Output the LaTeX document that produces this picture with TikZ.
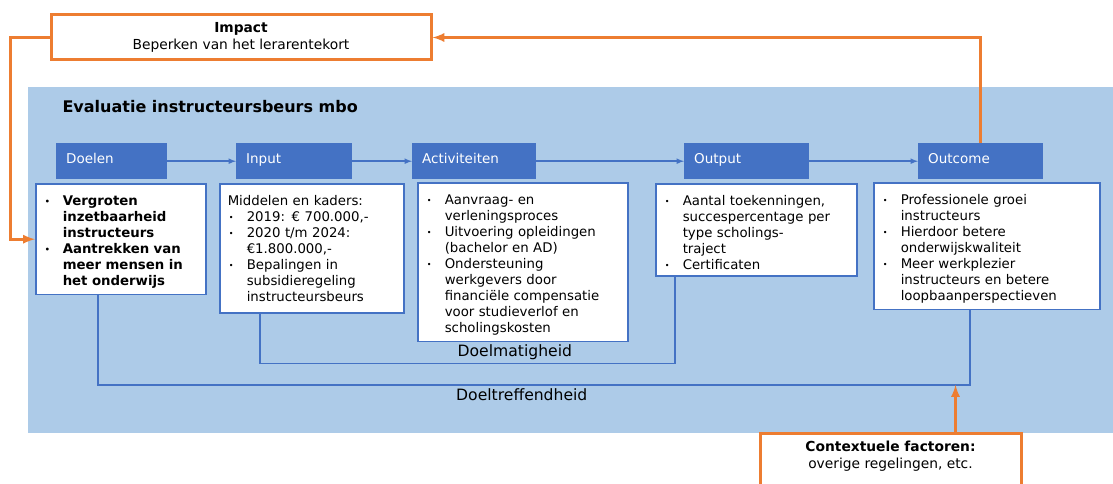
\documentclass[tikz,border=0pt]{standalone}
\usepackage{fontspec}
\setmainfont{DejaVu Sans}
\usetikzlibrary{positioning}
\definecolor{achtergrond}{HTML}{ADCBE8}
\definecolor{kopblauw}{HTML}{4472C4}
\definecolor{oranje}{HTML}{ED7D31}
\newcommand{\opsom}{\par\hangindent=19pt\hangafter=1\noindent\makebox[19pt][l]{\hspace{1pt}\raisebox{1.2pt}{\fontsize{8}{8}\selectfont\textbullet}}}

\begin{document}
\begin{tikzpicture}[x=1pt, y=-1pt]
	\tikzset{kop/.style={fill=kopblauw, text=white, anchor=north west, align=left, inner xsep=10pt, inner ysep=0pt, minimum height=36pt, text height=10pt, text depth=6pt, font=\fontsize{13.5}{16}\selectfont},
	vak/.style={draw=kopblauw, line width=1.5pt, fill=white, anchor=north west, align=left, inner xsep=8pt, inner ysep=6pt, font=\fontsize{13.3}{16}\selectfont},
	pijl/.style={kopblauw, line width=1.5pt, -latex},
	lijn/.style={kopblauw, line width=1.5pt},
	label/.style={text=black, font=\fontsize{15.6}{18}\selectfont},
	oranjepijl/.style={oranje, line width=3pt, -latex},
	oranjevak/.style={draw=oranje, line width=3pt, fill=white, align=center, font=\fontsize{13.8}{17}\selectfont}};

	\useasboundingbox (0,0) rectangle (1113,484);
	\fill[achtergrond] (28,87) rectangle (1113,433);
	\node[anchor=west, font=\bfseries\fontsize{16}{19}\selectfont] (titel) at (59,107) {Evaluatie instructeursbeurs mbo};

	\foreach \name/\x/\tb/\tekst in {doelen/56/91/Doelen, input/236/96/Input, act/412/104/Activiteiten, output/684/105/Output, outcome/918/105/Outcome}{
		\node[kop, text width=\tb pt] (\name) at (\x,143) {\tekst};
	}
	\draw[pijl] (doelen) -- (input);
	\draw[pijl] (input) -- (act);
	\draw[pijl] (act) -- (output);
	\draw[pijl] (output) -- (outcome);

	\node[vak, text width=154pt, minimum height=106pt, font={\bfseries\fontsize{13.3}{16}\selectfont}] (doelenbox) at (35,183) {\opsom Vergroten\newline inzetbaarheid\newline instructeurs \opsom Aantrekken van\newline meer mensen in\newline het onderwijs\par};
	\node[vak, text width=168pt, minimum height=129pt] (inputbox) at (219,183) {Middelen en kaders: \opsom 2019: € 700.000,- \opsom 2020 t/m 2024:\newline €1.800.000,- \opsom Bepalingen in\newline subsidieregeling\newline instructeursbeurs\par};
	\node[vak, text width=194pt, minimum height=155pt] (actbox) at (417,182) {\opsom Aanvraag- en\newline verleningsproces \opsom Uitvoering opleidingen\newline (bachelor en AD) \opsom Ondersteuning\newline werkgevers door\newline financiële compensatie\newline voor studieverlof en\newline scholingskosten\par};
	\node[vak, text width=185pt, minimum height=91pt] (outputbox) at (655,183) {\opsom Aantal toekenningen,\newline succespercentage per\newline type scholings-\newline traject \opsom Certificaten\par};
	\node[vak, text width=210pt, minimum height=123pt] (outcomebox) at (873,182) {\opsom Professionele groei\newline instructeurs \opsom Hierdoor betere\newline onderwijskwaliteit \opsom Meer werkplezier\newline instructeurs en betere\newline loopbaanperspectieven\par};

	\draw[lijn] ([xshift=41pt]inputbox.south west) -- ++(0,50) -| node[pos=0.307, above, label] {Doelmatigheid} ([xshift=20pt]outputbox.south west);
	\coordinate (dthoek) at (970,385);
	\draw[lijn] ([xshift=63pt]doelenbox.south west) |- node[pos=0.743, below, label] {Doeltreffendheid} (dthoek) -- (outcomebox.south -| dthoek);

	\node[oranjevak, minimum width=380pt, minimum height=45pt] (impact) at (241,37.5) {\textbf{Impact}\\Beperken van het lerarentekort};
	\node[oranjevak, anchor=north, minimum width=261pt, inner ysep=8pt, text depth=40pt] (context) at (890.5,432) {\textbf{Contextuele factoren:}\\overige regelingen, etc.};

	\draw[oranjepijl] (outcome.north) |- (impact.east);
	\draw[oranjepijl] (impact.west) -- ++(-39,0) |- (doelenbox.west);
	\draw[oranjepijl] ([xshift=65pt]context.north) -- ([xshift=65pt]context.north |- dthoek);
\end{tikzpicture}
\end{document}
